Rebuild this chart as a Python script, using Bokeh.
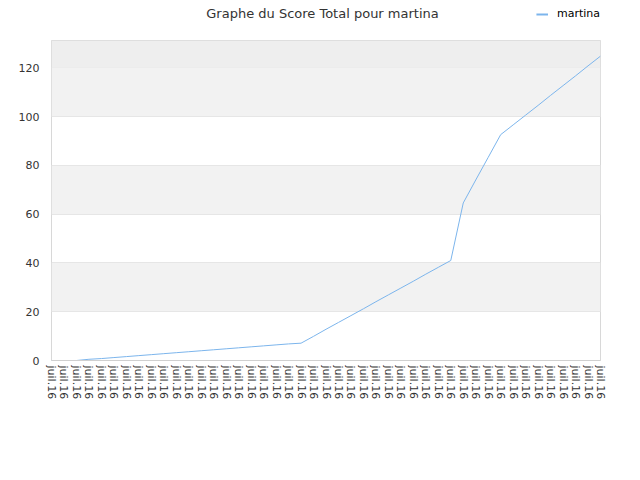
from bokeh.plotting import figure
from bokeh.layouts import column
from bokeh.models import Range1d, FixedTicker, BoxAnnotation, Label
from bokeh.embed import file_html
from bokeh.resources import INLINE

x_idx = list(range(45))
tick_labels = ["juil.16"] * 45
scores = [0, 0, 0, 0.5, 0.8, 1.2, 1.6, 2.0, 2.4, 2.8, 3.2, 3.6, 4.0, 4.4, 4.8,
          5.2, 5.6, 6.0, 6.4, 6.8, 7.1, 9.9, 12.8, 15.6, 18.4, 21.2, 24.1, 26.9,
          29.7, 32.5, 35.4, 38.2, 41.0, 64.6, 74.0, 83.3, 92.6, 96.6, 100.6,
          104.6, 108.7, 112.7, 116.7, 120.8, 124.8]
y_ticks = [0, 20, 40, 60, 80, 100, 120]
y_max = 131.2
series_name = "martina"
title_text = "Graphe du Score Total pour martina"

FONT = "DejaVu Sans"
LINE_COLOR = "#7cb5ec"
W = 640
BL, BR = 51, 40   # left / right borders of the plot frame

# ---- header strip: title + legend ----
HH, HT = 40, 7
header = figure(width=W, height=HH, output_backend="svg", toolbar_location=None,
                x_axis_location=None, y_axis_location=None,
                x_range=Range1d(BL, W - BR), y_range=Range1d(1000, 1000 + HH - HT),
                min_border=0, min_border_left=BL, min_border_right=BR,
                min_border_top=HT, min_border_bottom=0)
header.grid.visible = False
header.outline_line_color = None
header.background_fill_color = "#ffffff"
header.border_fill_color = "#ffffff"
header.add_layout(Label(x=322, y=27, x_units="data", y_units="screen",
                        text=title_text, text_align="center",
                        text_baseline="middle", text_font=FONT,
                        text_font_size="13px", text_color="#333333"))
legend_proxy = header.line(x_idx, scores, line_color=LINE_COLOR, line_width=2,
                           legend_label=series_name, visible=False)
leg = header.legend[0]
leg.location = "top_right"
leg.padding = 0
leg.margin = 0
leg.border_line_color = None
leg.background_fill_alpha = 0
leg.inactive_fill_alpha = 0
leg.glyph_width = 12
leg.glyph_height = 12
leg.label_standoff = 9
leg.label_text_font = FONT
leg.label_text_font_size = "11px"
leg.label_text_color = "#000000"

# ---- main chart ----
p = figure(width=W, height=440, output_backend="svg", toolbar_location=None,
           x_range=Range1d(x_idx[0], x_idx[-1]), y_range=Range1d(0, y_max),
           min_border_left=BL, min_border_right=BR, min_border_top=0,
           min_border_bottom=120)

p.background_fill_color = "#ffffff"
p.border_fill_color = "#ffffff"
p.outline_line_color = "#d8d8d8"

p.add_layout(BoxAnnotation(bottom=y_ticks[-1], fill_color="#eeeeee", fill_alpha=1,
                           line_color=None, level="underlay"))

p.line(x_idx, scores, line_color=LINE_COLOR, line_width=1)

p.xgrid.visible = False
p.ygrid.ticker = FixedTicker(ticks=y_ticks)
p.ygrid.grid_line_color = "#e6e6e6"
p.ygrid.band_fill_color = "#f2f2f2"
p.ygrid.band_fill_alpha = 1

p.xaxis.ticker = FixedTicker(ticks=x_idx)
p.xaxis.major_label_overrides = {i: lab for i, lab in zip(x_idx, tick_labels)}
p.xaxis.major_label_orientation = "vertical"
p.xaxis.major_tick_line_color = None
p.xaxis.minor_tick_line_color = None
p.xaxis.major_tick_out = 0
p.xaxis.major_label_standoff = 5
p.xaxis.axis_line_color = "#d0d0d0"
p.xaxis.major_label_text_font = FONT
p.xaxis.major_label_text_font_size = "11px"
p.xaxis.major_label_text_color = "#333333"

p.yaxis.ticker = FixedTicker(ticks=y_ticks)
p.yaxis.axis_line_color = None
p.yaxis.major_tick_line_color = None
p.yaxis.minor_tick_line_color = None
p.yaxis.major_tick_out = 0
p.yaxis.major_label_standoff = 12
p.yaxis.major_label_text_font = FONT
p.yaxis.major_label_text_font_size = "11px"
p.yaxis.major_label_text_color = "#333333"

layout = column(header, p, spacing=0)
open("out.html", "w").write(file_html(layout, INLINE))
